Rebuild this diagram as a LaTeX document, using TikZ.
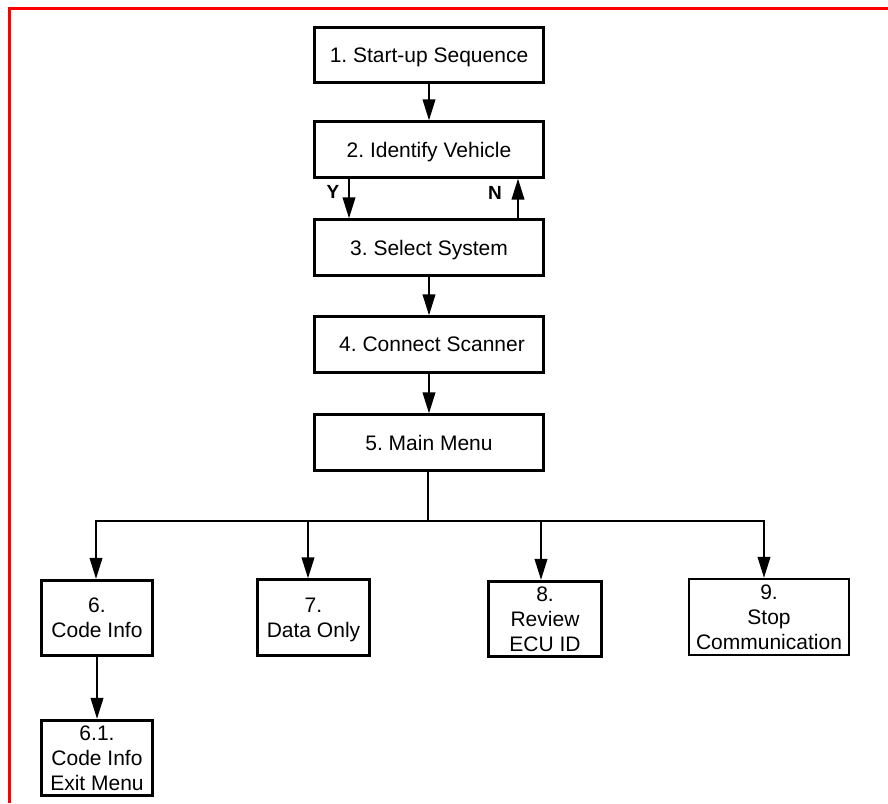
\documentclass[tikz,border=0pt]{standalone}
\usepackage{fontspec}
\setmainfont{Liberation Sans}
\usetikzlibrary{arrows.meta}
\frenchspacing
\begin{document}
\begin{tikzpicture}[x=1pt,y=-1pt,
  box/.style={draw=black,line width=2.7pt,inner sep=0pt,text depth=0pt,
    font=\fontsize{21}{25}\selectfont,align=center},
  topbox/.style={box,minimum width=229.5pt,minimum height=55.5pt},
  lowbox/.style={box,minimum width=112pt,minimum height=75.5pt},
  conn/.style={line width=2.2pt,-{Triangle[length=21pt,width=12.5pt]}},
  wire/.style={line width=2.4pt},
  lbl/.style={font=\fontsize{19}{19}\selectfont\bfseries,inner sep=0pt,text depth=0pt}]
\useasboundingbox (0,0) rectangle (888,803);
% frame
\draw[red,line width=2.6pt] (888,8.5) -- (9.5,8.5) -- (9.5,803);
% top chain
\node[topbox] (b1) at (429,55) {1. Start-up Sequence};
\node[topbox] (b2) at (429,149.5) {2. Identify Vehicle};
\node[topbox] (b3) at (429,247.5) {3. Select System};
\node[topbox] (b4) at (429,344.5) {\hspace*{6pt}4. Connect Scanner};
\node[topbox] (b5) at (429,442.5) {5. Main Menu};
% lower boxes
\node[lowbox,minimum width=111.5pt] (b6) at (97,618) {6.\\Code Info};
\node[lowbox] (b7) at (313.5,617.5) {7.\\Data Only};
\node[lowbox,minimum width=113.5pt] (b8) at (545,619) {8.\\Review\\ECU ID};
\node[lowbox,line width=2.3pt,minimum width=160pt,minimum height=76pt] (b9) at (769,617) {9.\\Stop\\Communication};
\node[lowbox,minimum width=111.5pt] (b61) at (97,758) {6.1.\\Code Info\\Exit Menu};
% labels
\node[lbl] (ly) at (333,192) {Y};
\node[lbl] (ln) at (495,193) {N};
% connectors
\draw[conn] (b1) -- (b2);
\draw[conn] ([xshift=-80pt]b2.south) -- ([xshift=-80pt]b3.north);
\draw[conn] ([xshift=89pt]b3.north) -- ([xshift=89pt]b2.south);
\draw[conn] (b3) -- (b4);
\draw[conn] (b4) -- (b5);
\coordinate (j) at (428,521);
\coordinate (j6) at (96,521);
\coordinate (j7) at (308,521);
\coordinate (j8) at (541,521);
\coordinate (j9) at (764,521);
\draw[wire] ([xshift=-1pt]b5.south) -- (j);
\draw[wire,line join=miter] ([yshift=1.2pt]j6) -- (j6) -- (j9) -- ([yshift=1.2pt]j9);
\draw[conn] (j6) -- (j6 |- b6.north);
\draw[conn] (j7) -- (j7 |- b7.north);
\draw[conn] (j8) -- (j8 |- b8.north);
\draw[conn] (j9) -- (j9 |- b9.north);
\draw[conn] (b6) -- (b61);
\end{tikzpicture}
\end{document}
